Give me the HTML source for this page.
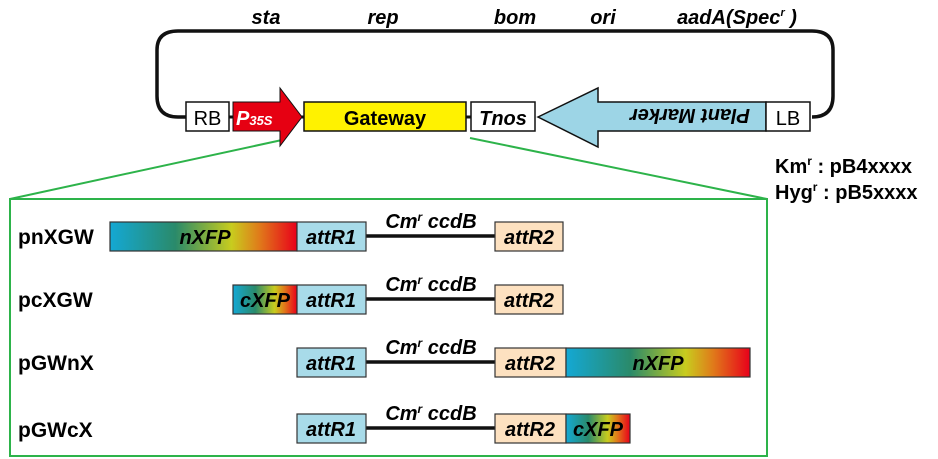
<!DOCTYPE html>
<html><head><meta charset="utf-8"><style>
html,body{margin:0;padding:0;background:#fff;}
svg{display:block;font-family:"Liberation Sans",Arial,sans-serif;}
.i{font-style:italic;font-weight:bold;}
.b{font-weight:bold;}
</style></head><body>
<svg width="938" height="459" viewBox="0 0 938 459" xmlns="http://www.w3.org/2000/svg">
<defs>
<linearGradient id="g" x1="0" x2="1" y1="0" y2="0">
<stop offset="0" stop-color="#14a8d4"/>
<stop offset="0.35" stop-color="#2a8a6a"/>
<stop offset="0.65" stop-color="#c8cc1e"/>
<stop offset="0.8" stop-color="#e07a1a"/>
<stop offset="1" stop-color="#e8001a"/>
</linearGradient>
</defs>
<g class="i" font-size="20" text-anchor="middle">
<text x="266" y="24">sta</text>
<text x="383" y="24">rep</text>
<text x="515" y="24">bom</text>
<text x="603" y="24">ori</text>
<text x="737" y="24">aadA(Spec<tspan font-size="11" dy="-8">r</tspan><tspan dy="8"> )</tspan></text>
</g>
<path d="M186 117 L178 117 Q157 117 157 96 L157 50 Q157 31 178 31 L812 31 Q833 31 833 50 L833 96 Q833 117 812 117" fill="none" stroke="#111" stroke-width="3.5"/>
<line x1="229" y1="117" x2="304" y2="117" stroke="#111" stroke-width="3"/>
<line x1="466" y1="117" x2="471" y2="117" stroke="#111" stroke-width="3"/>
<line x1="282" y1="140" x2="10" y2="199" stroke="#2db34a" stroke-width="2"/>
<line x1="470" y1="138" x2="767" y2="199" stroke="#2db34a" stroke-width="2"/>
<rect x="10" y="199" width="757" height="257" fill="none" stroke="#2db34a" stroke-width="2"/>
<rect x="186" y="102" width="43" height="29" fill="#fff" stroke="#111" stroke-width="1.5"/>
<text x="207.5" y="125" font-size="20" text-anchor="middle">RB</text>
<polygon points="233,102 280,102 280,88 302,117 280,146 280,131 233,131" fill="#e60012" stroke="#111" stroke-width="1"/>
<text x="236" y="125" class="i" font-size="20" fill="#fff">P<tspan font-size="13">35S</tspan></text>
<rect x="304" y="102" width="162" height="29" fill="#fff200" stroke="#111" stroke-width="1.5"/>
<text x="385" y="125" class="b" font-size="20" text-anchor="middle">Gateway</text>
<rect x="471" y="102" width="64" height="29" fill="#fff" stroke="#111" stroke-width="1.5"/>
<text x="503" y="125" class="i" font-size="20" text-anchor="middle">Tnos</text>
<polygon points="538,117 598,88 598,102 766,102 766,131 598,131 598,147" fill="#9dd5e6" stroke="#111" stroke-width="1.5"/>
<text transform="translate(690,109) rotate(180)" class="i" font-size="20" text-anchor="middle">Plant Marker</text>
<rect x="766" y="102" width="44" height="29" fill="#fff" stroke="#111" stroke-width="1.5"/>
<text x="788" y="125" font-size="20" text-anchor="middle">LB</text>
<g class="b" font-size="20">
<text x="775" y="173">Km<tspan font-size="12" dy="-8">r</tspan><tspan dy="8">  : pB4xxxx</tspan></text>
<text x="775" y="199">Hyg<tspan font-size="12" dy="-8">r</tspan><tspan dy="8"> : pB5xxxx</tspan></text>
</g>
<g class="b" font-size="21">
<text x="18" y="244">pnXGW</text>
<text x="18" y="307">pcXGW</text>
<text x="18" y="370">pGWnX</text>
<text x="18" y="437">pGWcX</text>
</g>
<g font-size="20" class="i" text-anchor="middle">
<line x1="366" y1="236" x2="495" y2="236" stroke="#111" stroke-width="3.5"/>
<rect x="110" y="222" width="187" height="29" fill="url(#g)" stroke="#333" stroke-width="1.2"/>
<text x="205" y="244">nXFP</text>
<rect x="297" y="222" width="69" height="29" fill="#a8dbe9" stroke="#333" stroke-width="1.2"/>
<text x="331" y="244">attR1</text>
<rect x="495" y="222" width="68" height="29" fill="#fde1c0" stroke="#333" stroke-width="1.2"/>
<text x="529" y="244">attR2</text>
<text x="431" y="228">Cm<tspan font-size="12" dy="-7">r</tspan><tspan dy="7"> ccdB</tspan></text>
<line x1="366" y1="299" x2="495" y2="299" stroke="#111" stroke-width="3.5"/>
<rect x="233" y="285" width="64" height="29" fill="url(#g)" stroke="#333" stroke-width="1.2"/>
<text x="265" y="307">cXFP</text>
<rect x="297" y="285" width="69" height="29" fill="#a8dbe9" stroke="#333" stroke-width="1.2"/>
<text x="331" y="307">attR1</text>
<rect x="495" y="285" width="68" height="29" fill="#fde1c0" stroke="#333" stroke-width="1.2"/>
<text x="529" y="307">attR2</text>
<text x="431" y="291">Cm<tspan font-size="12" dy="-7">r</tspan><tspan dy="7"> ccdB</tspan></text>
<line x1="366" y1="362" x2="495" y2="362" stroke="#111" stroke-width="3.5"/>
<rect x="297" y="348" width="69" height="29" fill="#a8dbe9" stroke="#333" stroke-width="1.2"/>
<text x="331" y="370">attR1</text>
<rect x="495" y="348" width="71" height="29" fill="#fde1c0" stroke="#333" stroke-width="1.2"/>
<text x="530" y="370">attR2</text>
<rect x="566" y="348" width="184" height="29" fill="url(#g)" stroke="#333" stroke-width="1.2"/>
<text x="658" y="370">nXFP</text>
<text x="431" y="354">Cm<tspan font-size="12" dy="-7">r</tspan><tspan dy="7"> ccdB</tspan></text>
<line x1="366" y1="428" x2="495" y2="428" stroke="#111" stroke-width="3.5"/>
<rect x="297" y="414" width="69" height="29" fill="#a8dbe9" stroke="#333" stroke-width="1.2"/>
<text x="331" y="436">attR1</text>
<rect x="495" y="414" width="71" height="29" fill="#fde1c0" stroke="#333" stroke-width="1.2"/>
<text x="530" y="436">attR2</text>
<rect x="566" y="414" width="64" height="29" fill="url(#g)" stroke="#333" stroke-width="1.2"/>
<text x="598" y="436">cXFP</text>
<text x="431" y="420">Cm<tspan font-size="12" dy="-7">r</tspan><tspan dy="7"> ccdB</tspan></text>
</g>
</svg>
</body></html>
